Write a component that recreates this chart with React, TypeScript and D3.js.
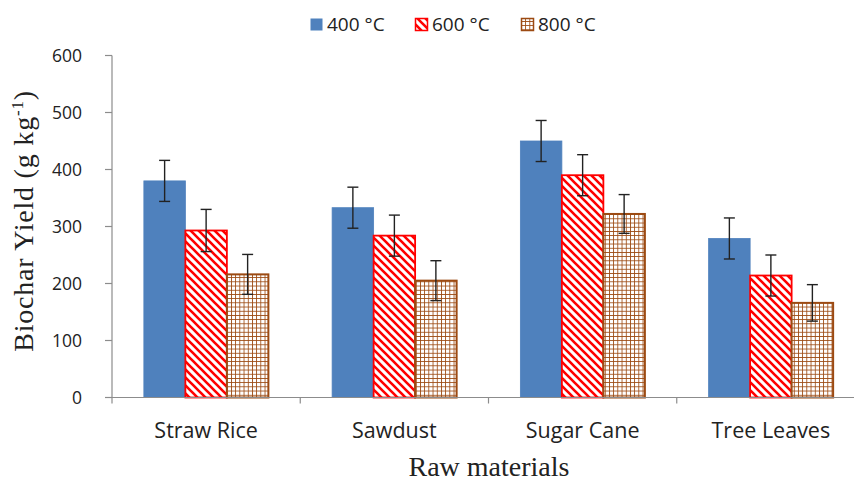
import { useEffect, useRef } from 'react';
import * as d3 from 'd3';

const categories = ['Straw Rice', 'Sawdust', 'Sugar Cane', 'Tree Leaves'];
const seriesNames = ['400 °C', '600 °C', '800 °C'];
const yield400 = [380, 333, 450, 279];
const yield600 = [293, 284, 390, 214];
const yield800 = [216, 205, 322, 166];
const err400 = [36, 36, 36, 36];
const err600 = [37, 36, 36, 36];
const err800 = [35, 35, 34, 32];
const yTicks = [0, 100, 200, 300, 400, 500, 600];

const App = () => {
  const chartRef = useRef<SVGSVGElement>(null);

  useEffect(() => {
    if (!chartRef.current) return;
    const svg = d3.select(chartRef.current);
    svg.selectAll('*').remove();

    const sans = '"Open Sans", sans-serif';
    const serif = '"Liberation Serif", "Times New Roman", serif';
    const axisColor = '#8c8c8c';

    // plot area (right side runs past the picture, like the original crop)
    const left = 112;
    const right = 865;
    const top = 55.5;
    const bottom = 397.5;

    const defs = svg.append('defs');
    // red wide downward diagonal
    const red = defs.append('pattern')
      .attr('id', 'redHatch')
      .attr('patternUnits', 'userSpaceOnUse')
      .attr('width', 8)
      .attr('height', 8);
    red.append('rect').attr('width', 8).attr('height', 8).attr('fill', '#fff');
    red.append('path')
      .attr('d', 'M-2,-2 L10,10 M-2,6 L2,10 M6,-2 L10,2')
      .attr('stroke', '#ff0000')
      .attr('stroke-width', 2.6);
    // brown small grid
    const g4 = 4.2;
    const brown = defs.append('pattern')
      .attr('id', 'brownGrid')
      .attr('patternUnits', 'userSpaceOnUse')
      .attr('width', g4)
      .attr('height', g4);
    brown.append('rect').attr('width', g4).attr('height', g4).attr('fill', '#fff');
    brown.append('path')
      .attr('d', `M0,0 H${g4} M0,0 V${g4}`)
      .attr('stroke', '#9c4a12')
      .attr('stroke-width', 1.7);

    const fills = ['#4f81bd', 'url(#redHatch)', 'url(#brownGrid)'];
    const strokes = ['#4f81bd', '#ff0000', '#9c4a12'];
    const strokeW = [0.8, 1.8, 2];

    const x0 = d3.scaleBand().domain(categories).range([left, right]).padding(0);
    const x1 = d3.scaleBand()
      .domain(seriesNames)
      .range([0, x0.bandwidth()])
      .paddingInner(0)
      .paddingOuter(0.768);
    const y = d3.scaleLinear().domain([0, 600]).range([bottom, top]);

    // y axis
    const yAxis = svg.append('g');
    yAxis.append('line')
      .attr('x1', left).attr('x2', left)
      .attr('y1', top).attr('y2', bottom + 6)
      .attr('stroke', axisColor).attr('stroke-width', 1.2);
    yAxis.selectAll('.ytick')
      .data(yTicks)
      .enter()
      .append('line')
      .attr('x1', left - 7).attr('x2', left)
      .attr('y1', d => y(d)).attr('y2', d => y(d))
      .attr('stroke', axisColor).attr('stroke-width', 1.2);
    yAxis.selectAll('.ylabel')
      .data(yTicks)
      .enter()
      .append('text')
      .attr('x', left - 30)
      .attr('y', d => y(d) + 6.5)
      .attr('text-anchor', 'end')
      .style('font-family', sans)
      .style('font-size', '17.5px')
      .style('fill', '#222')
      .text(d => d.toString());

    // bars
    const rows = [yield400, yield600, yield800];
    const errs = [err400, err600, err800];
    const barData = categories.flatMap((c, i) =>
      seriesNames.map((s, j) => ({ cat: c, s, j, v: rows[j][i], e: errs[j][i] }))
    );
    svg.selectAll('.bar')
      .data(barData)
      .enter()
      .append('rect')
      .attr('class', 'bar')
      .attr('x', d => (x0(d.cat) || 0) + (x1(d.s) || 0))
      .attr('y', d => y(d.v))
      .attr('width', x1.bandwidth())
      .attr('height', d => bottom - y(d.v))
      .attr('fill', d => fills[d.j])
      .attr('stroke', d => strokes[d.j])
      .attr('stroke-width', d => strokeW[d.j]);

    // x axis
    svg.append('line')
      .attr('x1', left).attr('x2', right)
      .attr('y1', bottom).attr('y2', bottom)
      .attr('stroke', axisColor).attr('stroke-width', 1.2);
    svg.selectAll('.xtick')
      .data(categories)
      .enter()
      .append('line')
      .attr('x1', d => (x0(d) || 0) + x0.bandwidth())
      .attr('x2', d => (x0(d) || 0) + x0.bandwidth())
      .attr('y1', bottom).attr('y2', bottom + 6)
      .attr('stroke', axisColor).attr('stroke-width', 1.2);
    svg.selectAll('.xlabel')
      .data(categories)
      .enter()
      .append('text')
      .attr('x', d => (x0(d) || 0) + x0.bandwidth() / 2)
      .attr('y', 438)
      .attr('text-anchor', 'middle')
      .style('font-family', sans)
      .style('font-size', '21.5px')
      .style('fill', '#222')
      .text(d => d);

    // error bars
    const eb = svg.selectAll('.err')
      .data(barData)
      .enter()
      .append('g')
      .attr('transform', d => `translate(${(x0(d.cat) || 0) + (x1(d.s) || 0) + x1.bandwidth() / 2},0)`);
    eb.append('line')
      .attr('y1', d => y(d.v + d.e)).attr('y2', d => y(d.v - d.e))
      .attr('stroke', '#222').attr('stroke-width', 1.4);
    eb.append('line')
      .attr('x1', -5.5).attr('x2', 5.5)
      .attr('y1', d => y(d.v + d.e)).attr('y2', d => y(d.v + d.e))
      .attr('stroke', '#222').attr('stroke-width', 1.4);
    eb.append('line')
      .attr('x1', -5.5).attr('x2', 5.5)
      .attr('y1', d => y(d.v - d.e)).attr('y2', d => y(d.v - d.e))
      .attr('stroke', '#222').attr('stroke-width', 1.4);

    // axis titles
    svg.append('text')
      .attr('x', 489)
      .attr('y', 476)
      .attr('text-anchor', 'middle')
      .style('font-family', serif)
      .style('font-size', '28px')
      .style('fill', '#222')
      .text('Raw materials');
    const yt = svg.append('text')
      .attr('transform', 'translate(33,221) rotate(-90)')
      .attr('text-anchor', 'middle')
      .style('font-family', serif)
      .style('font-size', '28px')
      .style('letter-spacing', '0.8px')
      .style('fill', '#222');
    yt.append('tspan').text('Biochar Yield (g kg');
    yt.append('tspan').attr('dy', -10).style('font-size', '17px').text('-1');
    yt.append('tspan').attr('dy', 10).text(')');

    // legend
    const legX = [310, 415, 521];
    const leg = svg.selectAll('.legend')
      .data(seriesNames)
      .enter()
      .append('g')
      .attr('transform', (d, i) => `translate(${legX[i]},0)`);
    leg.append('rect')
      .attr('x', 0.5).attr('y', 18.5)
      .attr('width', 12).attr('height', 12)
      .attr('fill', (d, i) => fills[i])
      .attr('stroke', (d, i) => strokes[i])
      .attr('stroke-width', (d, i) => (i === 0 ? 0 : 1.5));
    leg.append('text')
      .attr('x', 17)
      .attr('y', 31)
      .style('font-family', sans)
      .style('font-size', '19px')
      .style('fill', '#222')
      .text(d => d);
  }, []);

  return (
    <div style={{ position: 'absolute', left: 0, top: 0 }}>
      <svg ref={chartRef} width={854} height={483} style={{ display: 'block', background: '#fff' }} />
    </div>
  );
};

export default App;
